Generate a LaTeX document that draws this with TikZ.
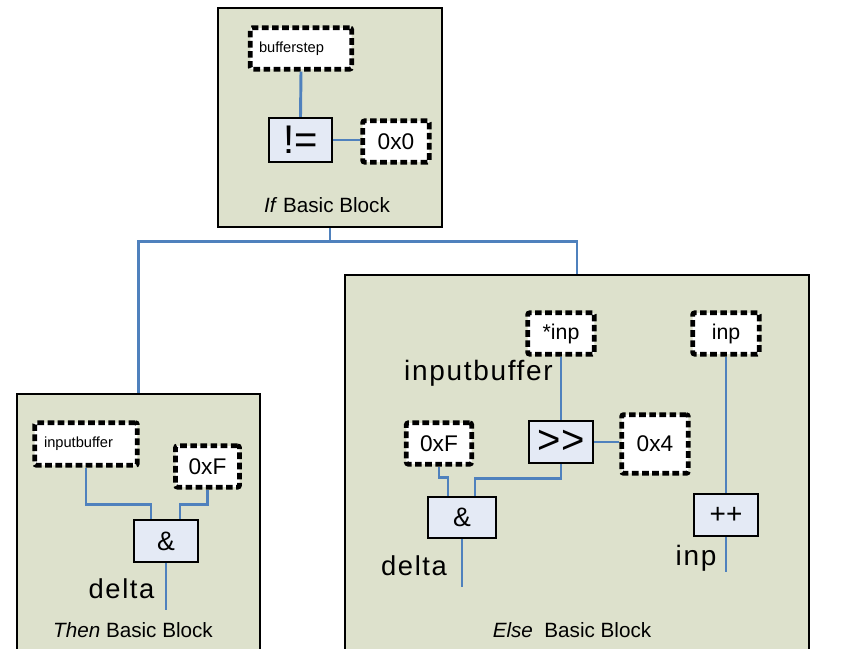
\documentclass[tikz,border=0pt]{standalone}
\usepackage{fontspec}
\setmainfont{Liberation Sans}
\newfontfamily\widefont[LetterSpace=6]{Liberation Sans}
\usepackage{tikz}
\usetikzlibrary{positioning}
\usetikzlibrary{calc}
\usetikzlibrary{fit}

\definecolor{blockbg}{RGB}{221,225,204}
\definecolor{opbg}{RGB}{228,234,245}
\definecolor{wireblue}{RGB}{79,129,189}

\newcommand{\fsz}[1]{\fontsize{#1}{1.2\dimexpr#1\relax}\selectfont}

\tikzset{
    bblock/.style={draw, line width=2pt, fill=blockbg, inner sep=0pt},
    varbox/.style={draw, fill=white, line width=3.6pt, dash pattern=on 5pt off 2.6pt, rounded corners=1.5pt, inner sep=0pt},
    opbox/.style={draw, fill=opbg, line width=1.6pt, inner sep=0pt},
    wire/.style={draw=wireblue, line width=2.2pt},
    lbl/.style={anchor=base, inner sep=0pt}
}

\begin{document}
\begin{tikzpicture}[x=0.75pt, y=-0.75pt]
    \useasboundingbox (0,0) rectangle (846,649);

    % basic blocks
    \node [bblock, fit={(218,8) (442,227)}] (ifblk) {};
    \node [bblock, fit={(17,394) (260,665)}] (thenblk) {};
    \node [bblock, fit={(345,275) (809,665)}] (elseblk) {};

    \node [lbl] (iflbl) at (327,213) {\fsz{15.5pt}\textit{If} Basic Block};
    \node [lbl] (thenlbl) at (133,637) {\fsz{15.5pt}\textit{Then} Basic Block};
    \node [lbl] (elselbl) at (572,637) {\fsz{15.5pt}\textit{Else}\ \ Basic Block};

    % if block
    \node [varbox, text width=63pt, inner xsep=6.5pt, minimum height=31pt, align=left] (bstep) at (301,48.5) {\fsz{11pt}bufferstep};
    \node [opbox, minimum width=47pt, minimum height=33pt] (neq) at (300.5,140) {\fsz{30pt}!=};
    \node [varbox, minimum width=50pt, minimum height=31pt] (zero) at (396,141.5) {\fsz{17pt}0x0};

    % then block
    \node [varbox, text width=63pt, inner xsep=7pt, minimum height=32pt, align=left] (tbuf) at (86,444) {\fsz{11pt}inputbuffer};
    \node [varbox, minimum width=48pt, minimum height=31pt] (tmask) at (207.5,466.5) {\fsz{17pt}0xF};
    \node [opbox, minimum width=48pt, minimum height=31.5pt] (tand) at (166,541) {\fsz{20pt}\&};
    \node [lbl] (tdelta) at (121.5,598) {\fsz{20.5pt}\widefont delta};

    % else block
    \node [varbox, minimum width=50pt, minimum height=31pt] (sinp) at (561,333.5) {\fsz{16pt}*inp};
    \node [varbox, minimum width=50pt, minimum height=31pt] (inpv) at (726,333.5) {\fsz{16pt}inp};
    \node [lbl] (ebuf) at (478.5,380) {\fsz{21pt}\widefont inputbuffer};
    \node [varbox, minimum width=49pt, minimum height=31pt] (emask) at (439,443.5) {\fsz{17pt}0xF};
    \node [opbox, minimum width=48pt, minimum height=31.5pt] (shr) at (561,442) {\fsz{30pt}>{}>};
    \node [varbox, minimum width=50pt, minimum height=44pt] (four) at (655,444) {\fsz{17pt}0x4};
    \node [opbox, minimum width=51pt, minimum height=30.5pt] (eand) at (462,517.5) {\fsz{20pt}\&};
    \node [opbox, minimum width=48pt, minimum height=31.5pt] (incr) at (726,515) {\fsz{21pt}++};
    \node [lbl] (edelta) at (414,575) {\fsz{20.5pt}\widefont delta};
    \node [lbl] (einp) at (696,565) {\fsz{21pt}\widefont inp};

    % branches
    \draw [wire] (ifblk.south) -- ++(0,13) coordinate (split) -| (thenblk.north);
    \draw [wire] (split) -| (elseblk.north);

    % if wires
    \draw [wire] (bstep.south) -- (neq.north);
    \draw [wire] (neq.east) -- (neq.east -| zero.west);

    % then wires
    \draw [wire] (tbuf.south) -- ++(0,37) -| ([xshift=-11.25pt]tand.north);
    \draw [wire] (tmask.south) -- ++(0,15) -| ([xshift=10.5pt]tand.north);
    \draw [wire] (tand.south) -- ++(0,47);

    % else wires
    \draw [wire] (sinp.south) -- (shr.north);
    \draw [wire] (shr.east) -- (shr.east -| four.west);
    \draw [wire] (shr.south) -- ++(0,14) -| ([xshift=9.75pt]eand.north);
    \draw [wire] (emask.south) -- ++(0,11) -| ([xshift=-10.5pt]eand.north);
    \draw [wire] (eand.south) -- ++(0,48);
    \draw [wire] (inpv.south) -- (incr.north);
    \draw [wire] (incr.south) -- ++(0,35);
\end{tikzpicture}
\end{document}
